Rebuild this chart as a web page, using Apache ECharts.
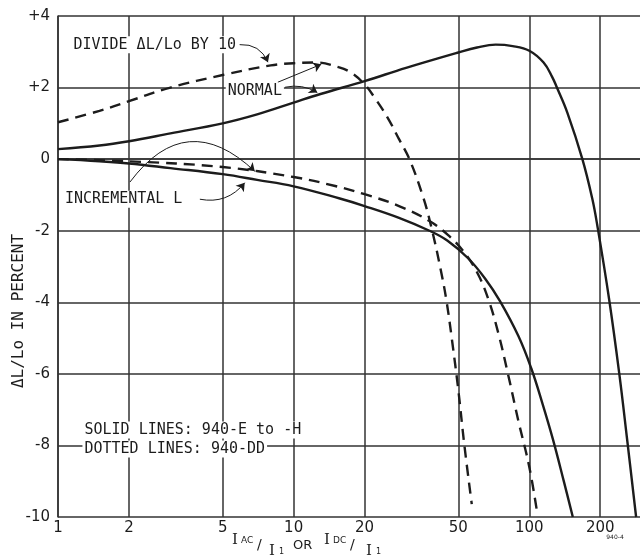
<!DOCTYPE html>
<html><head><meta charset="utf-8">
<script src="https://cdn.jsdelivr.net/npm/echarts@6/dist/echarts.min.js"></script>
<style>html,body{margin:0;padding:0;background:#fff}#c{width:640px;height:556px}</style>
</head><body><div id="c"></div>
<script>
// ---- data (x = I/I1 on log scale, y = ΔL/Lo in percent) ----
const xGridValues = [1, 2, 5, 10, 20, 50, 100, 200];
const normalSolid = [[1,0.28],[1.5,0.38],[2,0.5],[3,0.72],[5,1.0],[7,1.25],[10,1.58],[13,1.82],[20,2.18],[30,2.55],[50,2.98],[60,3.12],[72,3.2],[85,3.16],[100,3.03],[115,2.7],[125,2.3],[131,2.0],[145,1.3],[168,0],[185,-1.1],[194,-1.82],[218,-3.9],[241,-6],[260,-7.82],[284,-10]];
const normalDashed = [[1,1.03],[1.5,1.35],[2,1.62],[3,2.0],[5,2.35],[8,2.62],[10,2.68],[12.5,2.7],[15.5,2.57],[17.5,2.42],[20,2.09],[22,1.73],[25,1.17],[28,0.56],[31,0],[35.4,-1.05],[38.4,-1.9],[42,-3.06],[44.5,-3.95],[47,-5.06],[50,-6.46],[53,-7.98],[57,-9.64]];
const incrementalSolid = [[1,0],[1.5,-0.06],[2,-0.12],[3,-0.25],[5,-0.42],[7,-0.58],[10,-0.76],[15.7,-1.1],[20,-1.31],[28,-1.64],[37.7,-2.0],[45,-2.28],[55,-2.77],[65,-3.34],[75,-3.96],[90,-4.95],[102,-5.85],[114,-6.85],[126,-7.83],[140,-8.99],[153,-10]];
const incrementalDashed = [[1,0],[2,-0.06],[5,-0.22],[10,-0.5],[15,-0.75],[20,-0.98],[28,-1.31],[37.7,-1.73],[45,-2.11],[52,-2.54],[60,-3.16],[67,-3.91],[74,-4.88],[81,-5.97],[90,-7.33],[100,-8.6],[108,-9.88]];

// ---- annotation layout (data coordinates) ----
const notes = [
  {text:'DIVIDE ΔL/Lo BY 10', at:[1.14, 3.2]},
  {text:'NORMAL', at:[5.15, 1.9]},
  {text:'INCREMENTAL L', at:[1.05, -1.12]},
  {text:'SOLID LINES: 940-E to -H', at:[1.27, -7.57]},
  {text:'DOTTED LINES: 940-DD', at:[1.27, -8.1]}
];
const arrows = [
  {from:[5.9,3.2], to:[7.78,2.71], c:0.35},
  {from:[8.57,2.15], to:[13.1,2.65], c:0},
  {from:[9.2,2.01], to:[12.6,1.86], c:0.2},
  {from:[4.0,-1.12], to:[6.2,-0.66], c:-0.3},
  {from:[2.02,-0.64], to:[6.84,-0.34], c:0.56}
];

const FONT = 'DejaVu Sans';
const MONO = 'DejaVu Sans Mono';
const INK = '#1c1c1c';
const GRID = '#333';

const chart = echarts.init(document.getElementById('c'));
function curve(name, data, dashed) {
  return {type:'line', name, data, showSymbol:false, smooth:0.4,
    silent:true, z:5,
    lineStyle:{color:INK, width:2.4, type: dashed ? [11,7] : 'solid'}};
}
chart.setOption({
  animation:false,
  backgroundColor:'#fff',
  grid:{left:58, right:0, top:16, bottom:39, containLabel:false},
  xAxis:{type:'log', min:1, max:295, logBase:10,
    axisLine:{show:true, lineStyle:{color:GRID, width:1.5}},
    axisTick:{show:false}, axisLabel:{show:false}, splitLine:{show:false}, minorTick:{show:false}},
  yAxis:{type:'value', min:-10, max:4, interval:2,
    axisLine:{show:true, lineStyle:{color:GRID, width:1.5}},
    axisTick:{show:false},
    axisLabel:{color:INK, fontFamily:FONT, fontSize:15, margin:8,
      formatter: v => v > 0 ? '+' + v : String(v)},
    splitLine:{show:true, lineStyle:{color:GRID, width:1.5}}},
  series:[
    {type:'line', data:[], silent:true, z:1,
      markLine:{silent:true, symbol:['none','none'], animation:false,
        lineStyle:{color:GRID, width:1.5, type:'solid'},
        label:{show:true, position:'start', distance:4, color:INK, fontFamily:FONT, fontSize:15,
          formatter: p => String(p.value)},
        emphasis:{disabled:true},
        data: xGridValues.map(v => ({xAxis:v}))}},
    curve('normal solid', normalSolid, false),
    curve('normal dashed', normalDashed, true),
    curve('incremental solid', incrementalSolid, false),
    curve('incremental dashed', incrementalDashed, true),
    {type:'lines', coordinateSystem:'cartesian2d', silent:true, z:6, animation:false,
      symbol:['none','arrow'], symbolSize:8,
      lineStyle:{color:INK, width:1, type:'solid', opacity:1},
      data: arrows.map(a => ({coords:[a.from, a.to], lineStyle:{curveness:a.c}}))}
  ]
});

const g = [];
notes.forEach(n => {
  const p = chart.convertToPixel({gridIndex:0}, n.at);
  g.push({type:'text', x:p[0], y:p[1], z:10,
    style:{text:n.text, fill:INK, font:'15px "' + MONO + '"', textAlign:'left', textVerticalAlign:'middle',
      backgroundColor:'#fff', padding:[1,2]}});
});
g.push({type:'text', x:19, y:311, rotation:Math.PI/2, z:10,
  style:{text:'ΔL/Lo IN PERCENT', fill:INK, font:'16px "' + MONO + '"', textAlign:'center', textVerticalAlign:'middle'}});
// x-axis title pieces: I AC / I 1  OR  I DC / I 1
const titleParts = [
  {t:'I', dx:0, dy:-5, f:'15px "DejaVu Serif"'},
  {t:'AC', dx:9, dy:-4, f:'9px "' + FONT + '"'},
  {t:'/', dx:25, dy:0, f:'14px "' + FONT + '"'},
  {t:'I', dx:37, dy:6, f:'15px "DejaVu Serif"'},
  {t:'1', dx:47, dy:7, f:'8px "' + FONT + '"'},
  {t:'OR', dx:61, dy:1, f:'13px "' + FONT + '"'},
  {t:'I', dx:92, dy:-5, f:'15px "DejaVu Serif"'},
  {t:'DC', dx:101, dy:-4, f:'9px "' + FONT + '"'},
  {t:'/', dx:118, dy:0, f:'14px "' + FONT + '"'},
  {t:'I', dx:134, dy:6, f:'15px "DejaVu Serif"'},
  {t:'1', dx:144, dy:7, f:'8px "' + FONT + '"'}
];
g.push({type:'group', x:232, y:545, z:10,
  children: titleParts.map(p => ({type:'text', x:p.dx, y:p.dy,
    style:{text:p.t, fill:INK, font:p.f, textAlign:'left', textVerticalAlign:'middle'}}))});
g.push({type:'text', x:615, y:537, z:10,
  style:{text:'940-4', fill:INK, font:'6px "' + FONT + '"', textAlign:'center', textVerticalAlign:'middle'}});
chart.setOption({graphic:g});
</script>
</body></html>
